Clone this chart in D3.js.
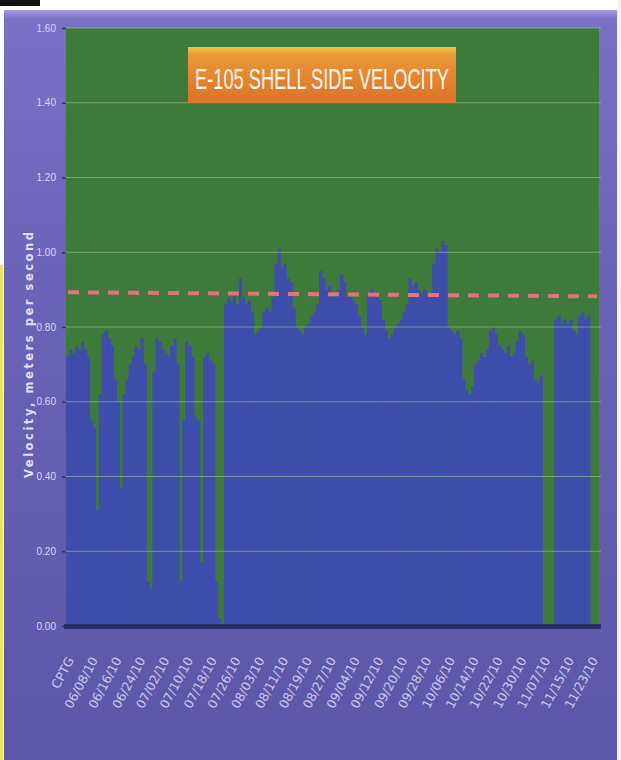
<!DOCTYPE html>
<html>
<head>
<meta charset="utf-8">
<script src="https://cdn.jsdelivr.net/npm/d3@7"></script>
<style>
  body { margin: 0; background: #fff; }
  svg { display: block; }
</style>
</head>
<body>
<script>
// daily shell side velocity, m/s (first bar is the CPTG design point)
var velocity = [
  0.72, 0.74, 0.73, 0.75, 0.74, 0.76, 0.74, 0.72, 0.55, 0.53,
  0.31, 0.62, 0.78, 0.79, 0.77, 0.75, 0.66, 0.60, 0.37, 0.62,
  0.66, 0.70, 0.72, 0.75, 0.74, 0.77, 0.70, 0.12, 0.10, 0.68,
  0.77, 0.76, 0.74, 0.73, 0.72, 0.75, 0.77, 0.70, 0.12, 0.55,
  0.76, 0.75, 0.72, 0.56, 0.55, 0.17, 0.72, 0.73, 0.71, 0.70,
  0.12, 0.02, 0.00, 0.86, 0.88, 0.87, 0.89, 0.86, 0.93, 0.88,
  0.86, 0.87, 0.84, 0.78, 0.79, 0.80, 0.84, 0.85, 0.84, 0.88,
  0.97, 1.01, 0.96, 0.97, 0.93, 0.92, 0.85, 0.80, 0.79, 0.78,
  0.80, 0.81, 0.83, 0.84, 0.86, 0.95, 0.93, 0.90, 0.91, 0.88,
  0.89, 0.90, 0.94, 0.92, 0.88, 0.89, 0.87, 0.86, 0.83, 0.80,
  0.78, 0.88, 0.90, 0.89, 0.88, 0.87, 0.82, 0.79, 0.77, 0.78,
  0.80, 0.81, 0.82, 0.84, 0.86, 0.93, 0.91, 0.92, 0.90, 0.89,
  0.90, 0.88, 0.89, 0.97, 1.01, 1.00, 1.03, 1.02, 0.80, 0.79,
  0.78, 0.79, 0.77, 0.66, 0.63, 0.62, 0.64, 0.70, 0.71, 0.73,
  0.72, 0.74, 0.79, 0.80, 0.78, 0.75, 0.74, 0.73, 0.75, 0.72,
  0.73, 0.76, 0.79, 0.78, 0.72, 0.70, 0.71, 0.66, 0.65, 0.67,
  0.00, 0.00, 0.00, 0.00, 0.82, 0.83, 0.81, 0.82, 0.81, 0.82,
  0.79, 0.78, 0.83, 0.84, 0.82, 0.83, 0.00, 0.00, 0.00
];

// x labels, one every 8 bars
var tickLabels = ["CPTG", "06/08/10", "06/16/10", "06/24/10", "07/02/10", "07/10/10",
  "07/18/10", "07/26/10", "08/03/10", "08/11/10", "08/19/10", "08/27/10", "09/04/10",
  "09/12/10", "09/20/10", "09/28/10", "10/06/10", "10/14/10", "10/22/10", "10/30/10",
  "11/07/10", "11/15/10", "11/23/10"];
var labelEvery = 8;

var yTicks = [0, 0.2, 0.4, 0.6, 0.8, 1.0, 1.2, 1.4, 1.6];

// dashed limit line (start, end)
var limitLine = [0.893, 0.882];

var width = 621,
    height = 760;

// plot area
var plotLeft = 66, plotRight = 599, plotTop = 28, plotBottom = 626;

var svg = d3.select("body").append("svg")
    .attr("width", width)
    .attr("height", height);

var defs = svg.append("defs");

var bg = defs.append("linearGradient").attr("id", "bgGrad")
    .attr("x1", 0).attr("y1", 0).attr("x2", 0).attr("y2", 1);
bg.append("stop").attr("offset", "0%").attr("stop-color", "#a49ce0");
bg.append("stop").attr("offset", "1.2%").attr("stop-color", "#7a70c6");
bg.append("stop").attr("offset", "40%").attr("stop-color", "#6a62b6");
bg.append("stop").attr("offset", "100%").attr("stop-color", "#5d56a8");

var tg = defs.append("linearGradient").attr("id", "titleGrad")
    .attr("x1", 0).attr("y1", 0).attr("x2", 0).attr("y2", 1);
tg.append("stop").attr("offset", "0%").attr("stop-color", "#f3c247");
tg.append("stop").attr("offset", "14%").attr("stop-color", "#eb9838");
tg.append("stop").attr("offset", "100%").attr("stop-color", "#dc7128");

// scan edges
svg.append("rect").attr("x", 0).attr("y", 0).attr("width", 40).attr("height", 6).attr("fill", "#111");
svg.append("rect").attr("x", 0).attr("y", 265).attr("width", 3).attr("height", 495).attr("fill", "#efe35a");

// purple chart background
svg.append("rect")
    .attr("x", 4).attr("y", 10)
    .attr("width", 613).attr("height", 750)
    .attr("fill", "url(#bgGrad)");

// green plot area
svg.append("rect")
    .attr("x", plotLeft).attr("y", plotTop)
    .attr("width", plotRight - plotLeft).attr("height", plotBottom - plotTop)
    .attr("fill", "#3e7b3b");

var x = d3.scaleBand()
    .domain(d3.range(velocity.length))
    .range([plotLeft, plotRight])
    .padding(0);

var y = d3.scaleLinear()
    .domain([0, 1.6])
    .range([plotBottom, plotTop]);

// bars
svg.append("g").attr("class", "bars")
  .selectAll("rect")
  .data(velocity)
  .enter()
  .append("rect")
    .attr("x", function(d, i) { return x(i); })
    .attr("y", function(d) { return y(d); })
    .attr("width", x.bandwidth() + 0.4)
    .attr("height", function(d) { return plotBottom - y(d); })
    .attr("fill", "#3e4dab");

// gridlines (show through the bars in the original)
svg.append("g").attr("class", "grid")
  .selectAll("line")
  .data(yTicks.slice(1))
  .enter()
  .append("line")
    .attr("x1", plotLeft).attr("x2", plotRight + 2)
    .attr("y1", function(d) { return y(d); })
    .attr("y2", function(d) { return y(d); })
    .attr("stroke", "#b9d49c")
    .attr("stroke-opacity", 0.5)
    .attr("stroke-width", 1);

// dashed limit line
svg.append("line")
    .attr("x1", x(0) + 2).attr("x2", plotRight - 2)
    .attr("y1", y(limitLine[0])).attr("y2", y(limitLine[1]))
    .attr("stroke", "#e2727e")
    .attr("stroke-width", 4)
    .attr("stroke-dasharray", "11,9");

// x axis baseline
svg.append("rect")
    .attr("x", plotLeft - 2).attr("y", plotBottom - 2)
    .attr("width", plotRight - plotLeft + 4).attr("height", 5)
    .attr("fill", "#2c2e68");

// y axis
var yAxis = svg.append("g")
    .attr("transform", "translate(" + plotLeft + ",0)")
    .call(d3.axisLeft(y).tickValues(yTicks).tickFormat(d3.format(".2f")).tickSize(4).tickPadding(6));
yAxis.select(".domain").remove();
yAxis.selectAll(".tick line").attr("stroke", "#35346e").attr("stroke-width", 1.5);
yAxis.selectAll("text")
    .attr("fill", "#dcd8f4")
    .style("font-family", "Liberation Sans, sans-serif")
    .style("font-size", "10px");

// x axis labels
var xAxis = svg.append("g")
    .attr("transform", "translate(0," + plotBottom + ")")
    .call(d3.axisBottom(x)
      .tickValues(d3.range(0, velocity.length, labelEvery).slice(0, tickLabels.length))
      .tickFormat(function(i) { return tickLabels[i / labelEvery]; })
      .tickSize(0));
xAxis.select(".domain").remove();
xAxis.selectAll("text")
    .attr("fill", "#cdc8f0")
    .style("font-family", "DejaVu Sans, sans-serif")
    .style("font-size", "12.5px")
    .attr("text-anchor", "end")
    .attr("dy", "0.35em")
    .attr("transform", "translate(3,32) rotate(-62)")
    .attr("y", 0)
    .attr("x", 0);

// y axis title
svg.append("text")
    .attr("transform", "translate(33,355) rotate(-90)")
    .attr("text-anchor", "middle")
    .attr("fill", "#e4e0f8")
    .style("font-family", "DejaVu Sans, sans-serif")
    .style("font-size", "11.5px")
    .style("font-weight", "bold")
    .attr("textLength", 246)
    .attr("lengthAdjust", "spacing")
    .text("Velocity, meters per second");

// title box
svg.append("rect")
    .attr("x", 188).attr("y", 47)
    .attr("width", 268).attr("height", 56)
    .attr("fill", "url(#titleGrad)");

svg.append("text")
    .attr("x", 322).attr("y", 89)
    .attr("text-anchor", "middle")
    .attr("fill", "#fff8f0")
    .style("font-family", "Liberation Sans Narrow, Liberation Sans, sans-serif")
    .style("font-size", "29px")
    .attr("textLength", 254)
    .attr("lengthAdjust", "spacingAndGlyphs")
    .text("E-105 SHELL SIDE VELOCITY");

// right paper edge
svg.append("rect").attr("x", 617).attr("y", 0).attr("width", 4).attr("height", height).attr("fill", "#f4f4f4");
</script>
</body>
</html>
